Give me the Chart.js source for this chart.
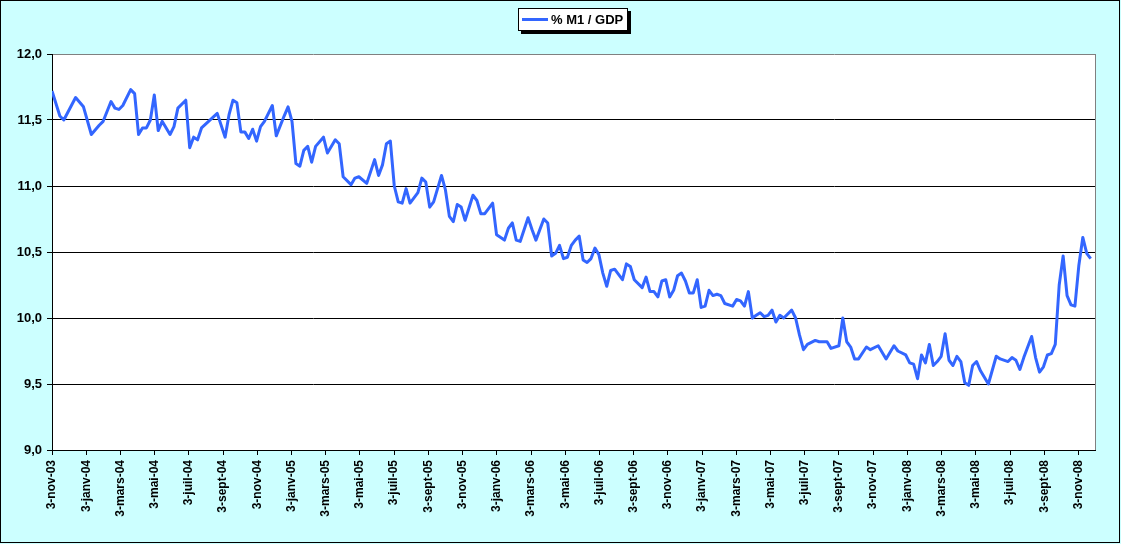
<!DOCTYPE html>
<html>
<head>
<meta charset="utf-8">
<script src="https://cdn.jsdelivr.net/npm/chart.js@4.4.1/dist/chart.umd.min.js"></script>
<style>
  html, body { margin: 0; padding: 0; background: #CCFFFF; }
  #wrap { position: relative; width: 1121px; height: 544px; }
  #legend {
    position: absolute; left: 518px; top: 8px; width: 110px; height: 23px;
    box-sizing: border-box; border: 1px solid #000; background: #fff;
    box-shadow: 3px 3px 0 #000;
    font: bold 13px "Liberation Sans", Arial, sans-serif; color: #000;
  }
  #legend .swatch { position: absolute; left: 3px; top: 9px; width: 26px; height: 3px; background: #3366FF; }
  #legend .txt { position: absolute; left: 32px; top: 3px; white-space: nowrap; }
</style>
</head>
<body>
<div id="wrap">
  <canvas id="myChart" width="1121" height="544"></canvas>
  <div id="legend"><span class="swatch"></span><span class="txt">% M1 / GDP</span></div>
</div>
<script>
// weeks counted from 3-nov-03
const weekNo = [0,2,3,6,8,10,12,13,15,16,17,18,20,21,22,23,24,25,26,27,28,30,31,32,34,35,36,37,38,42,44,45,
  46,47,48,49,50,51,52,53,54,56,57,59,60,61,62,63,64,65,66,67,69,70,72,73,74,76,77,78,80,82,83,84,85,86,87,88,89,
  90,91,93,94,95,96,97,99,100,101,102,103,104,105,107,108,109,110,112,113,115,116,117,118,119,121,122,123,125,126,
  127,128,129,130,131,132,133,134,135,136,137,138,139,140,141,142,143,145,146,147,148,150,151,152,153,154,155,156,
  157,158,159,160,161,162,163,164,165,166,167,168,169,170,171,173,174,175,176,177,178,179,180,181,182,183,184,185,
  186,188,189,190,191,192,194,195,197,198,200,201,202,203,204,205,207,208,210,212,214,215,217,218,219,220,221,222,
  223,224,225,226,227,228,229,230,231,232,233,234,235,236,238,240,241,243,244,245,246,247,249,250,251,252,253,254,
  255,256,257,258,259,260,261,262,263,264];

const m1Gdp = [11.72,11.53,11.50,11.67,11.60,11.39,11.46,11.49,11.64,11.59,11.58,11.61,11.73,11.70,11.39,11.44,11.44,
  11.50,11.69,11.42,11.49,11.39,11.45,11.59,11.65,11.29,11.37,11.35,11.44,11.55,11.37,11.54,
  11.65,11.63,11.41,11.41,11.36,11.43,11.34,11.45,11.49,11.61,11.38,11.53,11.60,11.49,11.17,11.15,11.27,11.30,11.18,
  11.30,11.37,11.25,11.35,11.32,11.07,11.01,11.06,11.07,11.02,11.20,11.08,11.16,11.32,11.34,11.00,10.88,10.87,
  10.98,10.87,10.95,11.06,11.03,10.84,10.88,11.08,10.97,10.77,10.73,10.86,10.84,10.74,10.93,10.89,10.79,10.79,10.87,
  10.63,10.59,10.68,10.72,10.59,10.58,10.76,10.67,10.59,10.75,10.72,
  10.47,10.49,10.55,10.45,10.46,10.55,10.59,10.62,10.44,10.42,10.45,10.53,10.48,10.34,10.24,10.36,10.37,10.29,10.41,
  10.39,10.29,10.23,10.31,10.20,10.20,10.16,10.28,10.29,
  10.16,10.21,10.32,10.34,10.28,10.19,10.19,10.29,10.08,10.09,10.21,10.17,10.18,10.17,10.11,10.09,10.14,10.13,10.09,
  10.20,10.00,10.02,10.04,10.01,10.02,10.06,9.97,10.02,
  10.00,10.06,10.00,9.87,9.76,9.80,9.83,9.82,9.82,9.77,9.79,10.00,9.82,9.78,9.69,9.69,9.78,9.76,9.79,9.69,9.79,9.75,
  9.72,9.66,9.65,9.54,9.72,9.66,
  9.80,9.64,9.67,9.71,9.88,9.68,9.64,9.71,9.67,9.51,9.49,9.64,9.67,9.60,9.50,9.71,9.69,9.67,9.70,9.68,9.61,9.70,
  9.86,9.70,9.59,9.63,9.72,9.73,
  9.80,10.25,10.47,10.17,10.10,10.09,10.40,10.61,10.49,10.45];

const tickLabels = ['3-nov-03','3-janv-04','3-mars-04','3-mai-04','3-juil-04','3-sept-04',
  '3-nov-04','3-janv-05','3-mars-05','3-mai-05','3-juil-05','3-sept-05',
  '3-nov-05','3-janv-06','3-mars-06','3-mai-06','3-juil-06','3-sept-06',
  '3-nov-06','3-janv-07','3-mars-07','3-mai-07','3-juil-07','3-sept-07',
  '3-nov-07','3-janv-08','3-mars-08','3-mai-08','3-juil-08','3-sept-08','3-nov-08'];

const weeksPer2Months = 2 * 365.25 / 12 / 7;
const axisFont = { family: '"Liberation Sans", Arial, sans-serif', size: 12, weight: 'bold' };

const frame = {
  id: 'frame',
  beforeDraw(chart) {
    const c = chart.ctx, a = chart.chartArea;
    c.save();
    c.fillStyle = '#CCFFFF';
    c.fillRect(0, 0, chart.width, chart.height);
    c.fillStyle = '#fff';
    c.fillRect(a.left, a.top, a.right - a.left, a.bottom - a.top);
    c.restore();
  },
  beforeDatasetsDraw(chart) {
    const c = chart.ctx, a = chart.chartArea;
    c.save();
    c.strokeStyle = '#808080';
    c.lineWidth = 1;
    c.beginPath();
    c.moveTo(Math.round(a.right) + 0.5, a.top);
    c.lineTo(Math.round(a.right) + 0.5, a.bottom);
    c.stroke();
    c.restore();
  },
  afterDraw(chart) {
    const c = chart.ctx;
    c.save();
    c.strokeStyle = '#000';
    c.lineWidth = 1;
    c.strokeRect(0.5, 0.5, 1119, 542);
    c.restore();
  }
};

new Chart(document.getElementById('myChart'), {
  type: 'line',
  data: {
    datasets: [{
      label: '% M1 / GDP',
      data: weekNo.map((w, i) => ({ x: w, y: m1Gdp[i] })),
      borderColor: '#3366FF',
      borderWidth: 3,
      borderJoinStyle: 'round',
      pointRadius: 0,
      tension: 0,
      fill: false
    }]
  },
  options: {
    responsive: false,
    animation: false,
    devicePixelRatio: 1,
    layout: { padding: { top: 54, right: 26, left: 0, bottom: 0 } },
    plugins: { legend: { display: false }, tooltip: { enabled: false } },
    scales: {
      x: {
        type: 'linear',
        min: 0,
        max: 265.1,
        afterFit: s => { s.height = 94; },
        afterBuildTicks: s => { s.ticks = tickLabels.map((t, k) => ({ value: k * weeksPer2Months })); },
        ticks: {
          autoSkip: false, minRotation: 90, maxRotation: 90, padding: 5,
          color: '#000', font: axisFont,
          callback: (v, i) => tickLabels[i]
        },
        grid: { drawOnChartArea: false, drawTicks: true, tickLength: 5, color: '#000' },
        border: { color: '#000', width: 1 }
      },
      y: {
        min: 9,
        max: 12,
        afterFit: s => { s.width = 52; },
        ticks: {
          stepSize: 0.5, padding: 5, color: '#000',
          font: { family: '"Liberation Sans", Arial, sans-serif', size: 13, weight: 'bold' },
          callback: v => v.toFixed(1).replace('.', ',')
        },
        grid: {
          color: ctx => (ctx.tick && ctx.tick.value === 12 ? '#808080' : '#000'),
          tickColor: '#000', tickLength: 5, lineWidth: 1
        },
        border: { color: '#000', width: 1 }
      }
    }
  },
  plugins: [frame]
});
</script>
</body>
</html>
